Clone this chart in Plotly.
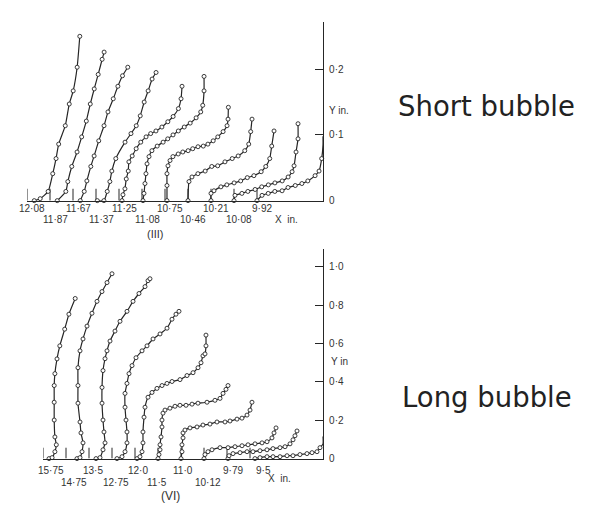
import plotly.graph_objects as go

# ---------------------------------------------------------------------------
# Velocity profiles through a laminar separation bubble.
# Each profile: horizontal displacement u (from its station origin) vs Y (in.)
# ---------------------------------------------------------------------------

short_stations = ["12·08", "11·87", "11·67", "11·37", "11·25", "11·08",
                  "10·75", "10·46", "10·21", "10·08", "9·92"]
short_u = [
    [0.11, 0.20, 0.32, 0.39, 0.44, 0.48, 0.58, 0.64, 0.70, 0.76, 0.80],
    [0.11, 0.24, 0.27, 0.33, 0.41, 0.48, 0.55, 0.61, 0.67, 0.73, 0.79, 0.82],
    [0.11, 0.17, 0.21, 0.27, 0.32, 0.39, 0.47, 0.53, 0.61, 0.68, 0.75, 0.83],
    [0.02, 0.12, 0.17, 0.21, 0.24, 0.30, 0.44, 0.53, 0.61, 0.67, 0.73, 0.79, 0.85, 0.91],
    [0.045, 0.06, 0.09, 0.11, 0.14, 0.15, 0.20, 0.26, 0.33, 0.41, 0.48, 0.56, 0.65,
     0.74, 0.82, 0.90, 0.94, 0.955],
    [0.015, 0.03, 0.045, 0.06, 0.076, 0.106, 0.15, 0.23, 0.32, 0.39, 0.47, 0.55, 0.64,
     0.73, 0.82, 0.89, 0.92, 0.94, 0.94],
    [0.03, 0.03, 0.03, 0.045, 0.076, 0.12, 0.20, 0.27, 0.35, 0.42, 0.50, 0.58, 0.65,
     0.73, 0.80, 0.88, 0.94, 0.955, 0.96],
    [0.0, 0.015, 0.06, 0.15, 0.26, 0.36, 0.45, 0.56, 0.67, 0.76, 0.86, 0.92, 0.95, 0.97],
    [0.0, 0.0, 0.045, 0.15, 0.24, 0.35, 0.45, 0.55, 0.65, 0.76, 0.83, 0.89, 0.92, 0.955],
    [0.0, 0.015, 0.12, 0.21, 0.32, 0.42, 0.52, 0.62, 0.73, 0.82, 0.88, 0.91, 0.94, 0.97, 0.97],
    [0.0, 0.076, 0.17, 0.27, 0.38, 0.47, 0.58, 0.68, 0.77, 0.88, 0.94, 0.98, 1.0, 1.0],
]
short_y = [
    [0.0, 0.003, 0.014, 0.041, 0.064, 0.086, 0.114, 0.147, 0.167, 0.203, 0.25],
    [0.0, 0.014, 0.029, 0.052, 0.074, 0.097, 0.121, 0.147, 0.170, 0.192, 0.215, 0.226],
    [0.0, 0.014, 0.030, 0.052, 0.068, 0.091, 0.114, 0.135, 0.155, 0.174, 0.190, 0.203],
    [0.0, 0.0, 0.014, 0.029, 0.045, 0.064, 0.089, 0.102, 0.114, 0.129, 0.150, 0.167, 0.185, 0.195],
    [0.0, 0.009, 0.018, 0.033, 0.045, 0.059, 0.068, 0.079, 0.089, 0.097, 0.102, 0.106, 0.112,
     0.120, 0.128, 0.140, 0.155, 0.174],
    [0.0, 0.011, 0.026, 0.041, 0.056, 0.067, 0.076, 0.083, 0.089, 0.094, 0.100, 0.106, 0.112,
     0.118, 0.126, 0.135, 0.145, 0.167, 0.189],
    [0.0, 0.023, 0.041, 0.053, 0.061, 0.067, 0.071, 0.074, 0.076, 0.079, 0.082, 0.083, 0.086,
     0.091, 0.097, 0.105, 0.114, 0.124, 0.142],
    [0.0, 0.029, 0.036, 0.041, 0.045, 0.052, 0.053, 0.059, 0.064, 0.068, 0.076, 0.086, 0.105, 0.124],
    [0.0, 0.011, 0.015, 0.021, 0.024, 0.027, 0.030, 0.035, 0.038, 0.044, 0.052, 0.064, 0.083, 0.106],
    [0.0, 0.008, 0.011, 0.014, 0.017, 0.021, 0.024, 0.027, 0.030, 0.036, 0.044, 0.053, 0.074,
     0.094, 0.117],
    [0.0, 0.008, 0.011, 0.014, 0.015, 0.020, 0.023, 0.026, 0.030, 0.038, 0.045, 0.064, 0.085, 0.098],
]

long_stations = ["15·75", "14·75", "13·5", "12·75", "12·0", "11·5",
                 "11·0", "10·12", "9·79", "9·5"]
long_u = [
    [0.086, 0.13, 0.17, 0.19, 0.17, 0.16, 0.16, 0.16, 0.17, 0.20, 0.24, 0.31, 0.37, 0.46],
    [0.157, 0.20, 0.229, 0.243, 0.214, 0.20, 0.171, 0.171, 0.171, 0.20, 0.243, 0.30, 0.371,
     0.443, 0.514, 0.586, 0.657],
    [0.10, 0.157, 0.20, 0.229, 0.214, 0.20, 0.186, 0.186, 0.20, 0.229, 0.257, 0.30, 0.371,
     0.443, 0.543, 0.629, 0.714, 0.80, 0.843, 0.871],
    [0.071, 0.143, 0.186, 0.214, 0.214, 0.20, 0.186, 0.186, 0.214, 0.243, 0.286, 0.343, 0.429,
     0.50, 0.586, 0.686, 0.786, 0.857, 0.914, 0.957],
    [0.029, 0.071, 0.10, 0.114, 0.114, 0.129, 0.143, 0.186, 0.243, 0.314, 0.386, 0.457, 0.529,
     0.643, 0.743, 0.829, 0.90, 0.943, 0.971, 1.0, 1.014, 1.014],
    [0.0, 0.014, 0.029, 0.029, 0.043, 0.057, 0.057, 0.071, 0.10, 0.171, 0.243, 0.314, 0.40,
     0.486, 0.571, 0.70, 0.814, 0.886, 0.929, 0.971, 1.0],
    [0.0, 0.014, 0.014, 0.029, 0.029, 0.057, 0.129, 0.229, 0.314, 0.414, 0.514, 0.629, 0.70,
     0.80, 0.871, 0.943, 0.986, 1.014],
    [0.0, 0.014, 0.057, 0.114, 0.229, 0.343, 0.443, 0.543, 0.629, 0.729, 0.829, 0.90, 0.971,
     1.0, 1.029],
    [0.014, 0.029, 0.086, 0.186, 0.286, 0.371, 0.471, 0.571, 0.657, 0.757, 0.829, 0.90, 0.943,
     0.971, 1.0],
    [0.071, 0.143, 0.243, 0.329, 0.429, 0.529, 0.614, 0.714, 0.814, 0.886, 0.957, 1.0, 1.043, 1.043],
]
long_y = [
    [0.0, 0.005, 0.036, 0.072, 0.113, 0.201, 0.294, 0.381, 0.443, 0.52, 0.588, 0.675, 0.753, 0.835],
    [0.0, 0.005, 0.036, 0.082, 0.134, 0.191, 0.289, 0.381, 0.474, 0.562, 0.624, 0.691, 0.758,
     0.82, 0.871, 0.918, 0.964],
    [0.0, 0.005, 0.046, 0.082, 0.139, 0.201, 0.289, 0.371, 0.459, 0.521, 0.562, 0.613, 0.665,
     0.716, 0.768, 0.82, 0.861, 0.897, 0.928, 0.938],
    [0.0, 0.01, 0.036, 0.082, 0.139, 0.201, 0.268, 0.34, 0.392, 0.443, 0.485, 0.526, 0.562,
     0.588, 0.624, 0.65, 0.68, 0.727, 0.753, 0.768],
    [0.0, 0.01, 0.036, 0.082, 0.139, 0.216, 0.268, 0.32, 0.345, 0.366, 0.381, 0.392, 0.402,
     0.412, 0.433, 0.448, 0.474, 0.50, 0.536, 0.546, 0.588, 0.644],
    [0.0, 0.021, 0.046, 0.072, 0.113, 0.165, 0.201, 0.237, 0.253, 0.263, 0.273, 0.278, 0.278,
     0.284, 0.289, 0.294, 0.304, 0.314, 0.34, 0.361, 0.381],
    [0.0, 0.036, 0.072, 0.108, 0.134, 0.149, 0.16, 0.165, 0.175, 0.18, 0.191, 0.191, 0.196,
     0.206, 0.211, 0.227, 0.253, 0.294],
    [0.0, 0.021, 0.036, 0.046, 0.057, 0.057, 0.062, 0.067, 0.072, 0.077, 0.082, 0.088, 0.108,
     0.134, 0.16],
    [0.0, 0.015, 0.026, 0.031, 0.036, 0.036, 0.041, 0.046, 0.052, 0.057, 0.062, 0.077, 0.098,
     0.119, 0.144],
    [0.0, 0.005, 0.01, 0.01, 0.01, 0.015, 0.015, 0.021, 0.026, 0.031, 0.036, 0.057, 0.077, 0.115],
]

short_ytick_vals = [0, 0.1, 0.2]
short_ytick_text = ["0", "0·1", "0·2"]
long_ytick_vals = [0, 0.2, 0.4, 0.6, 0.8, 1.0]
long_ytick_text = ["0", "0·2", "0·4", "0·6", "0·8", "1·0"]

# ---------------------------------------------------------------------------
# Page geometry (pixels)
# ---------------------------------------------------------------------------
W, H = 602, 515
INK = "#262626"
TEXT = "#333333"
SMALL_FONT = dict(family="Liberation Sans, Arial, sans-serif", size=10, color=TEXT)


def fx(px):
    return px / W


def fy(py):
    return (H - py) / H


panels = [
    dict(stations=short_stations, u=short_u, y=short_y,
         xa="x", ya="y", x_left=27, x_axis=323, y_base=203, y_top=22,
         px_per_u=66.0, px_per_y=665.0, step_px=23.0, tick_px=12,
         rows=[i % 2 for i in range(len(short_stations))],
         nudge=[5] * len(short_stations), row_y=[211, 222],
         yvals=short_ytick_vals, ytext=short_ytick_text,
         xin=(286, 222), yin=(327, 112), yin_text="Y in.",
         tag=(155, 237, "(III)", 11), caption=(486, 107, "Short bubble")),
    dict(stations=long_stations, u=long_u, y=long_y,
         xa="x2", ya="y2", x_left=43, x_axis=323, y_base=464, y_top=252,
         px_per_u=70.0, px_per_y=194.0, step_px=23.0, tick_px=11,
         rows=[0, 1, 0, 1, 0, 1, 0, 1, 0, 0],
         nudge=[8, 8, 4, 4, 3, -1, 2, 4, 6, 13], row_y=[476, 488],
         yvals=long_ytick_vals, ytext=long_ytick_text,
         xin=(279, 484), yin=(329, 366), yin_text="Y in",
         tag=(170, 502, "(VI)", 12), caption=(487, 402, "Long bubble")),
]

fig = go.Figure()
annotations = []
layout_axes = {}

for k, p in enumerate(panels):
    step = p["step_px"] / p["px_per_u"]          # station spacing in u-units
    x_hi = (p["x_axis"] - p["x_left"]) / p["px_per_u"]
    y_hi = (p["y_base"] - p["y_top"]) / p["px_per_y"]
    tick_h = p["tick_px"] / p["px_per_y"]
    suffix = "" if k == 0 else str(k + 1)

    layout_axes["xaxis" + suffix] = dict(
        domain=[fx(p["x_left"]), fx(p["x_axis"])], range=[0, x_hi],
        anchor=p["ya"], showline=True, linecolor=INK, linewidth=1.2,
        showgrid=False, zeroline=False, showticklabels=False, ticks="",
        fixedrange=True)
    layout_axes["yaxis" + suffix] = dict(
        domain=[fy(p["y_base"]), fy(p["y_top"])], range=[0, y_hi],
        anchor=p["xa"], side="right", showline=True, linecolor=INK, linewidth=1.2,
        showgrid=False, zeroline=False, ticks="inside", ticklen=8, tickwidth=1,
        tickcolor=INK, tickvals=p["yvals"], ticktext=p["ytext"],
        tickfont=SMALL_FONT, ticklabelstandoff=3, fixedrange=True)

    # short vertical marks at each station origin
    tx, ty = [], []
    for i in range(len(p["stations"])):
        tx += [i * step, i * step, None]
        ty += [0, tick_h, None]
    fig.add_trace(go.Scatter(x=tx, y=ty, mode="lines", xaxis=p["xa"], yaxis=p["ya"],
                             line=dict(color=INK, width=1), hoverinfo="skip",
                             showlegend=False, cliponaxis=False))

    # the profiles themselves
    for i, (us, ys) in enumerate(zip(p["u"], p["y"])):
        fig.add_trace(go.Scatter(
            x=[i * step + u for u in us], y=ys, mode="lines+markers",
            xaxis=p["xa"], yaxis=p["ya"], name=p["stations"][i],
            line=dict(color=INK, width=1.2, shape="spline", smoothing=0.5),
            marker=dict(symbol="circle", size=4, color="white",
                        line=dict(color=INK, width=0.9)),
            showlegend=False, cliponaxis=False))

    # station labels in two staggered rows
    for i, lab in enumerate(p["stations"]):
        annotations.append(dict(
            text=lab, xref=p["xa"], yref="paper",
            x=i * step + p["nudge"][i] / p["px_per_u"],
            y=fy(p["row_y"][p["rows"][i]]), xanchor="center", yanchor="middle",
            showarrow=False, font=SMALL_FONT))

    annotations.append(dict(text="X  in.", xref="paper", yref="paper",
                            x=fx(p["xin"][0]), y=fy(p["xin"][1]),
                            xanchor="center", yanchor="middle", showarrow=False,
                            font=SMALL_FONT))
    annotations.append(dict(text=p["yin_text"], xref="paper", yref="paper",
                            x=fx(p["yin"][0]), y=fy(p["yin"][1]),
                            xanchor="left", yanchor="middle", showarrow=False,
                            font=SMALL_FONT))
    annotations.append(dict(text=p["tag"][2], xref="paper", yref="paper",
                            x=fx(p["tag"][0]), y=fy(p["tag"][1]),
                            xanchor="center", yanchor="middle", showarrow=False,
                            font=dict(family="Liberation Sans, Arial, sans-serif",
                                      size=p["tag"][3], color=TEXT)))
    annotations.append(dict(text=p["caption"][2], xref="paper", yref="paper",
                            x=fx(p["caption"][0]), y=fy(p["caption"][1]),
                            xanchor="center", yanchor="middle", showarrow=False,
                            font=dict(family="DejaVu Sans, sans-serif", size=27.5,
                                      color="#222222")))

fig.update_layout(
    width=W, height=H, margin=dict(l=0, r=0, t=0, b=0),
    paper_bgcolor="white", plot_bgcolor="white", showlegend=False,
    annotations=annotations, **layout_axes)

fig.write_html("out.html")
